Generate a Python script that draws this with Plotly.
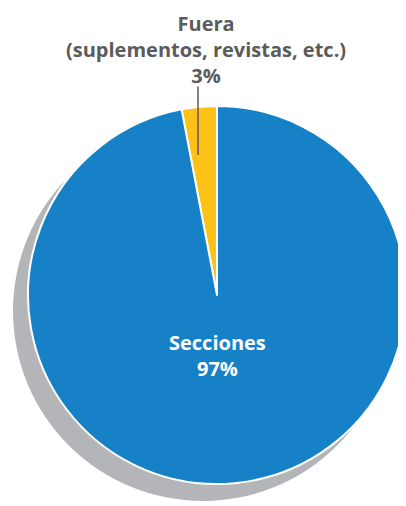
import plotly.graph_objects as go

labels = ["Fuera (suplementos, revistas, etc.)", "Secciones"]
values = [3, 97]
colors = ["#FDC118", "#1781C7"]
top_label = f"Fuera<br>(suplementos, revistas, etc.)<br>{values[0]}%"
inner_label = f"Secciones<br>{values[1]}%"

# page body has an 8px margin; figure sized to fit the 406x506 window
OFF = 8
W, H = 398, 498


def px(x):
    return (x - OFF) / W


def py(y):
    return 1 - (y - OFF) / H


total = sum(values)

fig = go.Figure()

fig.add_trace(go.Pie(
    labels=labels,
    values=values,
    sort=False,
    direction="clockwise",
    rotation=-360 * values[0] / total,
    textinfo="none",
    hoverinfo="label+percent",
    marker=dict(colors=colors, line=dict(color="white", width=2)),
    domain=dict(x=[px(28), px(406)], y=[py(484), py(106)]),
    showlegend=False,
))

# drop shadow behind the pie
fig.add_shape(type="circle", xref="paper", yref="paper",
              x0=px(13), x1=px(393), y0=py(501), y1=py(121),
              fillcolor="#B4B5B8", line=dict(width=0), layer="below")

font_top = dict(family="Open Sans", size=20, color="#5B5B5B", weight="bold")
font_in = dict(family="Open Sans", size=20, color="white", weight="bold")

fig.add_annotation(xref="paper", yref="paper", x=px(206), y=py(49),
                   text=top_label, showarrow=False, font=font_top,
                   xanchor="center", yanchor="middle")
fig.add_annotation(xref="paper", yref="paper", x=px(198), y=py(155),
                   text="", showarrow=True, arrowhead=0, arrowwidth=1.5,
                   arrowcolor="#5B5B5B", ax=0, ay=-70)
fig.add_annotation(xref="paper", yref="paper", x=px(218), y=py(355),
                   text=inner_label, showarrow=False, font=font_in,
                   xanchor="center", yanchor="middle")

fig.update_layout(width=W, height=H, margin=dict(l=0, r=0, t=0, b=0),
                  paper_bgcolor="white", plot_bgcolor="white")

fig.write_html("out.html")
